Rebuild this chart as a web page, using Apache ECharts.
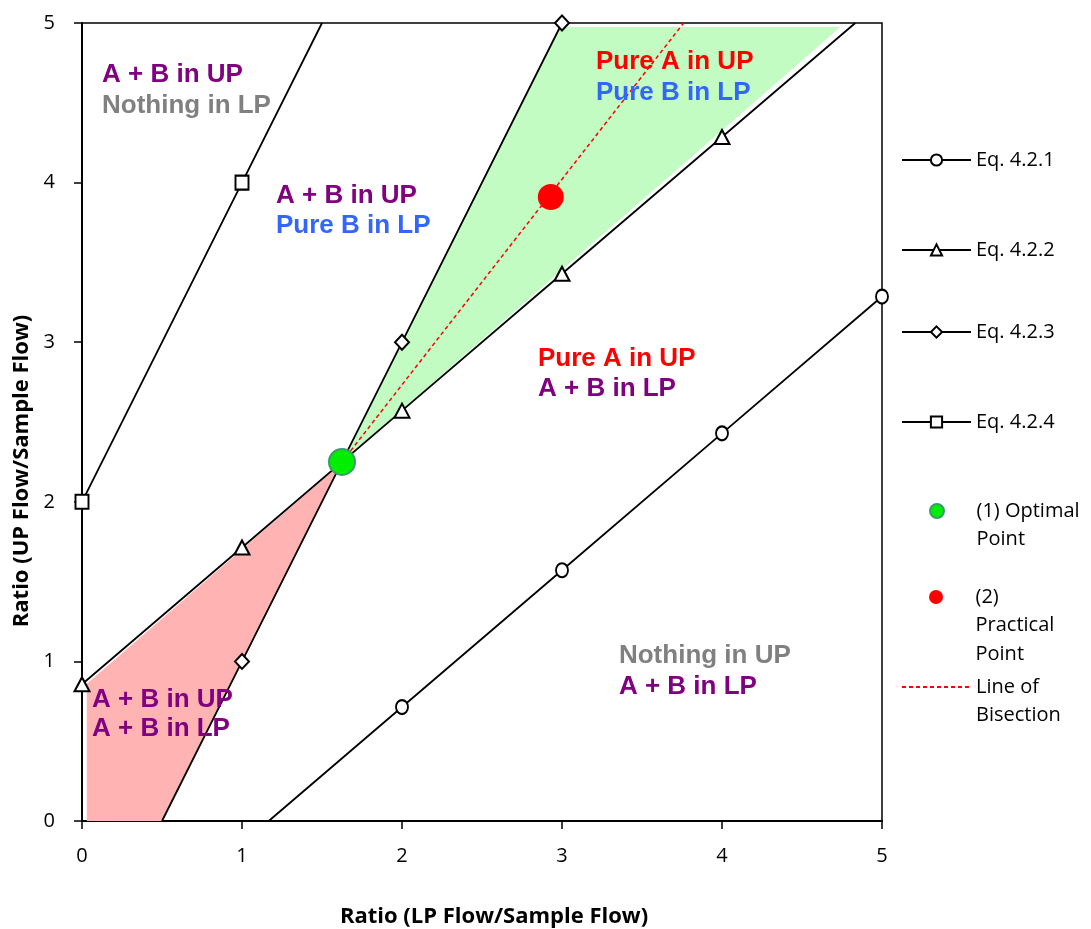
<!DOCTYPE html>
<html><head><meta charset="utf-8">
<script src="https://cdn.jsdelivr.net/npm/echarts@6/dist/echarts.min.js"></script>
<style>html,body{margin:0;padding:0;background:#fff}#c{width:1091px;height:929px}</style>
</head><body><div id="c"></div><script>
// ---- data ----
const axisMin = 0, axisMax = 5, axisStep = 1;

const eq1Start  = [1.167, 0];
const eq1Points = [[2, 0.714], [3, 1.571], [4, 2.429], [5, 3.286]];

const eq2Points = [[0, 0.857], [1, 1.714], [2, 2.571], [3, 3.429], [4, 4.286]];
const eq2End    = [4.833, 5];

const eq3Start  = [0.5, 0];
const eq3Points = [[1, 1], [2, 3], [3, 5]];

const eq4Points = [[0, 2], [1, 4]];
const eq4End    = [1.5, 5];

const optimalPoint   = [1.625, 2.25];
const practicalPoint = [2.93, 3.91];
const bisectionLine  = [[1.625, 2.25], [3.76, 5]];

const greenRegion = [[1.625, 2.25], [2.9875, 4.975], [4.74, 4.975]];
const pinkRegion  = [[0.03, 0], [0.03, 0.86], [1.62, 2.24], [0.5, 0]];

const noteText = ['A + B in UP', 'Nothing in LP', 'A + B in UP', 'Pure B in LP',
                  'Pure A in UP', 'Pure B in LP', 'Pure A in UP', 'A + B in LP',
                  'Nothing in UP', 'A + B in LP', 'A + B in UP', 'A + B in LP'];
const noteX = [0.125, 0.125, 1.2125, 1.2125, 3.2125, 3.2125, 2.85, 2.85, 3.356, 3.356, 0.0625, 0.0625];
const noteY = [4.674, 4.48, 3.916, 3.728, 4.756, 4.561, 2.895, 2.707, 1.034, 0.84, 0.758, 0.576];
const noteTone = ['purple', 'grey', 'purple', 'blue', 'red', 'blue', 'red', 'purple', 'grey', 'purple', 'purple', 'purple'];

const legendNames = ['Eq. 4.2.1', 'Eq. 4.2.2', 'Eq. 4.2.3', 'Eq. 4.2.4', '(1) Optimal Point', '(2) Practical Point', 'Line of Bisection'];
const legendLabels = ['Eq. 4.2.1', 'Eq. 4.2.2', 'Eq. 4.2.3', 'Eq. 4.2.4', '(1) Optimal\nPoint', '(2)\nPractical\nPoint', 'Line of\nBisection'];

// ---- styling ----
const toneColor = { purple: '#800080', grey: '#808080', red: '#ff0000', blue: '#3366ff' };
const legendCenters = [160, 250, 332, 422, 511, 597, 687];
const legendLeft = [901, 901, 901, 901, 929, 929, 901];
const LH = 28.5;

function lineData(start, pts, end) {
  const d = [];
  if (start) d.push({ value: start, symbol: 'none' });
  pts.forEach(p => d.push({ value: p }));
  if (end) d.push({ value: end, symbol: 'none' });
  return d;
}
function eqSeries(name, data, symbol, size) {
  return {
    type: 'line', name, data, symbol, symbolSize: size, showSymbol: true,
    lineStyle: { color: '#000', width: 1.8 },
    itemStyle: { color: '#000', borderColor: '#000', borderWidth: 1.6 },
    z: 3, animation: false, emphasis: { disabled: true }
  };
}
function regionSeries(pts, color) {
  return {
    type: 'custom', data: pts, silent: true, z: 1, animation: false,
    renderItem: function (params, api) {
      if (params.dataIndex !== 0) return null;
      return { type: 'polygon', shape: { points: pts.map(p => api.coord(p)) }, style: { fill: color } };
    }
  };
}

const notes = noteText.map((t, i) => ({
  value: [noteX[i], noteY[i]], name: t,
  label: { color: toneColor[noteTone[i]] }
}));

const legends = legendNames.map((nm, i) => {
  const n = legendLabels[i].split('\n').length;
  const lead = '\n'.repeat(n - 1);
  const lg = {
    left: legendLeft[i], top: legendCenters[i] - (2 * n - 1) * LH / 2,
    orient: 'vertical', padding: 0, itemGap: 0, itemWidth: 69, itemHeight: 14,
    selectedMode: false, data: [nm],
    formatter: () => lead + legendLabels[i],
    textStyle: { fontFamily: 'Open Sans', fontSize: 20, color: '#000', lineHeight: LH }
  };
  if (nm === 'Line of Bisection') lg.itemStyle = { opacity: 0 };
  return lg;
});

const chart = echarts.init(document.getElementById('c'));
chart.setOption({
  backgroundColor: '#fff',
  animation: false,
  grid: { left: 82, top: 23, right: 209, bottom: 108, show: true, borderColor: '#000', borderWidth: 1.5 },
  legend: legends,
  xAxis: {
    type: 'value', min: axisMin, max: axisMax, interval: axisStep,
    axisLine: { onZero: false, lineStyle: { color: '#000', width: 2 } },
    axisTick: { show: true, length: 8, lineStyle: { color: '#000', width: 1.5 } },
    axisLabel: { color: '#000', fontFamily: 'Open Sans', fontSize: 20, margin: 25 },
    splitLine: { show: false }
  },
  yAxis: {
    type: 'value', min: axisMin, max: axisMax, interval: axisStep,
    axisLine: { onZero: false, lineStyle: { color: '#000', width: 2 } },
    axisTick: { show: true, length: 8, lineStyle: { color: '#000', width: 1.5 } },
    axisLabel: { color: '#000', fontFamily: 'Open Sans', fontSize: 20, margin: 27 },
    splitLine: { show: false }
  },
  graphic: [
    { type: 'text', x: 494, y: 917, style: { text: 'Ratio (LP Flow/Sample Flow)', fontFamily: 'Open Sans', fontWeight: 'bold', fontSize: 22, fill: '#000', align: 'center', verticalAlign: 'middle' } },
    { type: 'text', x: 22, y: 471, rotation: Math.PI / 2, style: { text: 'Ratio (UP Flow/Sample Flow)', fontFamily: 'Open Sans', fontWeight: 'bold', fontSize: 22, fill: '#000', align: 'center', verticalAlign: 'middle' } }
  ],
  series: [
    regionSeries(greenRegion, '#c2fcc2'),
    regionSeries(pinkRegion, '#ffb3b3'),
    eqSeries('Eq. 4.2.1', lineData(eq1Start, eq1Points, null), 'emptyCircle', [12, 14]),
    eqSeries('Eq. 4.2.2', lineData(null, eq2Points, eq2End), 'emptyTriangle', [15, 14]),
    eqSeries('Eq. 4.2.3', lineData(eq3Start, eq3Points, null), 'emptyDiamond', [14, 15]),
    eqSeries('Eq. 4.2.4', lineData(null, eq4Points, eq4End), 'emptyRect', [13, 14]),
    {
      type: 'line', name: 'Line of Bisection', data: bisectionLine, symbol: 'none',
      lineStyle: { color: '#ff0000', width: 1.5, type: [4, 3] }, z: 4
    },
    {
      type: 'scatter', name: '(1) Optimal Point', data: [optimalPoint], symbol: 'circle', symbolSize: 26,
      itemStyle: { color: '#00ee00', borderColor: '#3c9a6c', borderWidth: 2, opacity: 1 }, z: 5
    },
    {
      type: 'scatter', name: '(2) Practical Point', data: [practicalPoint], symbol: 'circle', symbolSize: 26,
      itemStyle: { color: '#ff0000', opacity: 1 }, z: 5
    },
    {
      type: 'scatter', name: 'notes', data: notes, symbolSize: 0, silent: true, z: 6,
      itemStyle: { opacity: 1 },
      label: { show: true, position: 'right', distance: 0, formatter: p => p.name,
               fontFamily: 'Liberation Sans', fontWeight: 'bold', fontSize: 26 }
    }
  ]
});
</script></body></html>
